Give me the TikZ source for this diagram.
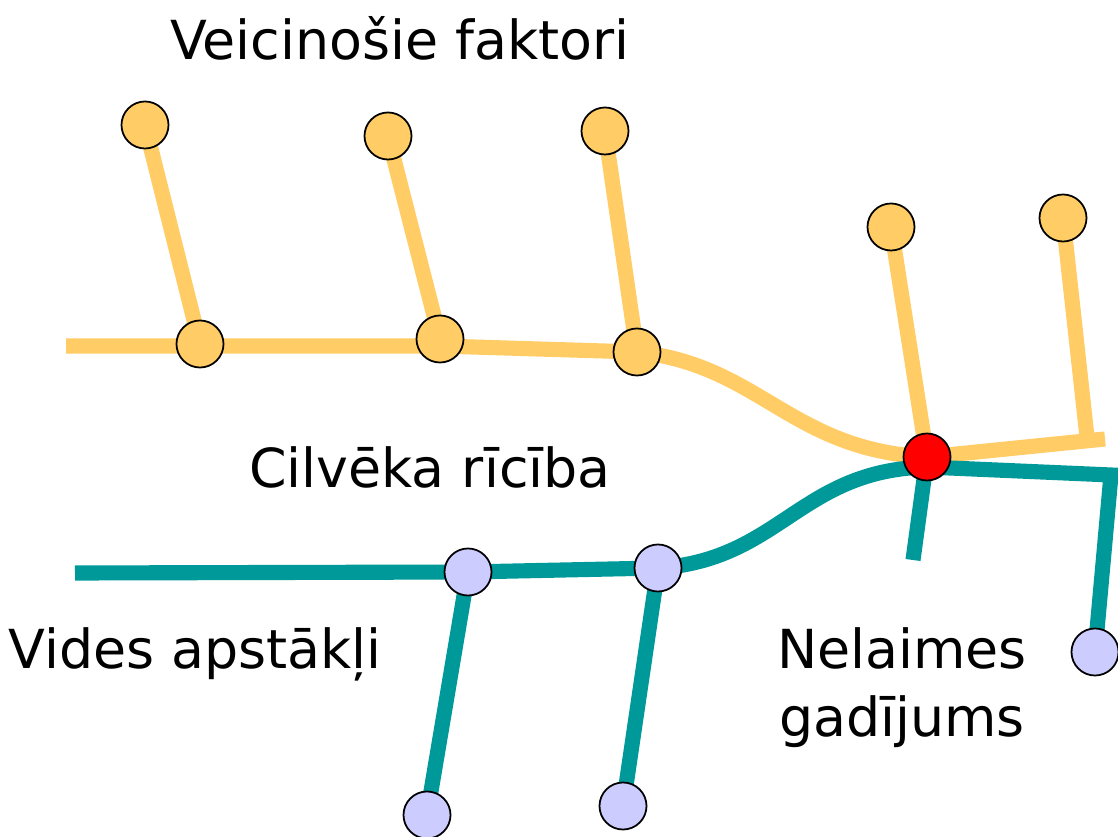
\documentclass[tikz,border=0pt]{standalone}
\usepackage{fontspec}
\setmainfont{DejaVu Sans}
\usetikzlibrary{shapes.geometric}
\usetikzlibrary{backgrounds}
\definecolor{factor}{RGB}{255,204,102}
\definecolor{env}{RGB}{0,153,153}
\definecolor{envnode}{RGB}{204,204,255}
\tikzset{
  dot/.style={circle,draw=black,line width=0.5pt,inner sep=0pt,
    minimum size=0.47cm},
  fdot/.style={dot,fill=factor},
  edot/.style={dot,fill=envnode},
  fline/.style={draw=factor,line width=4.3pt},
  eline/.style={draw=env,line width=4.3pt,line join=miter},
  label/.style={font=\fontsize{15.3}{19.3}\selectfont,inner sep=0pt}
}
\begin{document}
\begin{tikzpicture}[x=0.01cm,y=-0.01cm]
\useasboundingbox (0,0) rectangle (1118,837);
% labels
\node (veic) [label,anchor=base] at (400,60) {Veicinošie faktori};
\node (cilv) [label,anchor=base] at (430,488) {Cilvēka rīcība};
\node (vides) [label,anchor=base] at (195,668) {Vides apstākļi};
\node (nel) [label,align=center] at (902,688) {Nelaimes\\gadījums};
% factor nodes
\node (fa) [fdot] at (200,344) {};
\node (fb) [fdot] at (440,339) {};
\node (fc) [fdot] at (637,352) {};
\node (ft1) [fdot] at (145,125) {};
\node (ft2) [fdot] at (388,136) {};
\node (ft3) [fdot] at (605,131) {};
\node (ft4) [fdot] at (891,227) {};
\node (ft5) [fdot] at (1063,218) {};
% environment nodes
\node (ea) [edot] at (468,572) {};
\node (eb) [edot] at (658,568) {};
\node (eb1) [edot] at (427,815) {};
\node (eb2) [edot] at (623,806) {};
\node (er) [edot] at (1095,652) {};
% accident
\node (acc) [dot,fill=red] at (927,457) {};
\coordinate (fstart) at (66,346);
\coordinate (fmid) at (440,346);
\coordinate (fend) at (1105,439);
\coordinate (fjoin) at (1087,437);
\coordinate (estart) at (75,573);
\coordinate (ejoin) at (927,467);
\coordinate (ecorner) at (1111,475);
\coordinate (estub) at (913,560);
\begin{scope}[on background layer]
\draw[fline] (fstart) -- (fmid) -- (fc.center)
  .. controls (760,365) and (790,450) .. (acc.center) -- (fend);
\draw[fline] (ft1.center) -- (fa.center);
\draw[fline] (ft2.center) -- (fb.center);
\draw[fline] (ft3.center) -- (fc.center);
\draw[fline] (ft4.center) -- (acc.center);
\draw[fline] (ft5.center) -- (fjoin);
\draw[eline] (estart) -- (ea.center) -- (eb.center)
  .. controls (780,560) and (800,470) .. (ejoin) -- (ecorner) -- (er.center);
\draw[eline] (ea.center) -- (eb1.center);
\draw[eline] (eb.center) -- (eb2.center);
\draw[eline] (acc.center) -- (estub);
\end{scope}
\end{tikzpicture}
\end{document}
